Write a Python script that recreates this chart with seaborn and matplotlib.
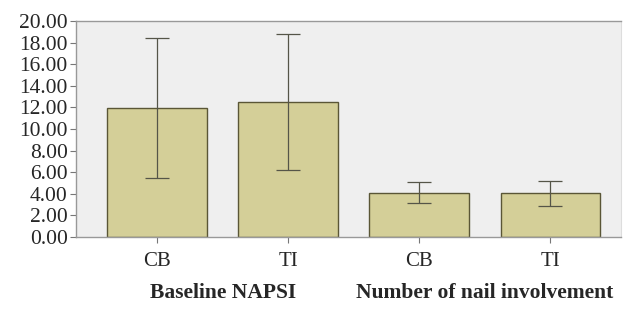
import matplotlib
matplotlib.use("Agg")
import matplotlib.pyplot as plt
import seaborn as sns
import pandas as pd

# values
bar_ids = ["napsi_cb", "napsi_ti", "nail_cb", "nail_ti"]
tick_labels = ["CB", "TI", "CB", "TI"]
means = [11.97, 12.47, 4.10, 4.04]
err_low = [5.45, 6.20, 3.15, 2.87]
err_high = [18.40, 18.80, 5.10, 5.20]
groups = ["Baseline NAPSI", "Number of nail involvement"]

df = pd.DataFrame({"bar": bar_ids, "mean": means})

sns.set_style("ticks")
plt.rcParams["font.family"] = ["Liberation Serif", "DejaVu Serif"]

fig = plt.figure(figsize=(6.36, 3.14), dpi=100)
ax = fig.add_axes([0.1195, 0.245, 0.857, 0.688])
ax.set_facecolor("#efefef")

sns.barplot(data=df, x="bar", y="mean", color="#d4cf98", edgecolor="#5a5636",
            linewidth=1.0, width=0.76, errorbar=None, saturation=1, ax=ax)

pos = range(len(means))
lower = [m - lo for m, lo in zip(means, err_low)]
upper = [hi - m for m, hi in zip(means, err_high)]
ax.errorbar(list(pos), means, yerr=[lower, upper], fmt="none", ecolor="#555548",
            elinewidth=0.9, capsize=8.5, capthick=0.9)

ax.set_xlim(-0.62, 3.54)
ax.set_ylim(0, 20)
ax.set_yticks(range(0, 21, 2))
ax.set_yticklabels([f"{v:.2f}" for v in range(0, 21, 2)], fontsize=15.5)
ax.set_xticks(list(pos))
ax.set_xticklabels(tick_labels, fontsize=15)
ax.set_xlabel("")
ax.set_ylabel("")
ax.tick_params(axis="both", length=4, color="#777777", pad=2)
ax.tick_params(axis="x", pad=7)
for side in ["left", "bottom", "top"]:
    ax.spines[side].set_color("#999999")
    ax.spines[side].set_linewidth(1.0)
ax.spines["right"].set_color("#dddddd")

for i, g in enumerate(groups):
    ax.text(2 * i + 0.5, -0.26, g, transform=ax.get_xaxis_transform(),
            ha="center", va="center", fontsize=15.5, fontweight="bold")

fig.savefig("out.png", dpi=100)
